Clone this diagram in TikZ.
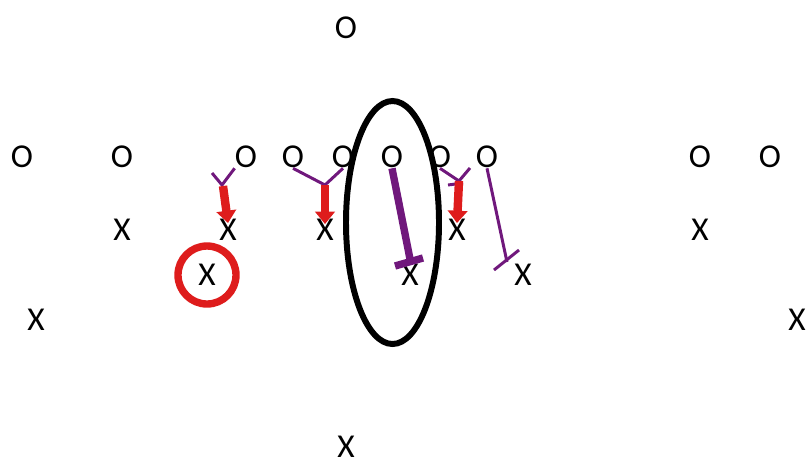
\documentclass[tikz,border=0pt]{standalone}
\usepackage{fontspec}
\setmainfont{Carlito}
\usepackage{tikz}
\usepackage{xcolor}
\usetikzlibrary{calc,arrows.meta,positioning,shapes}

\definecolor{blockpurple}{RGB}{112,24,124}
\definecolor{pushred}{RGB}{222,28,28}

\tikzset{
	man/.style={inner sep=0pt, font=\fontsize{19}{19}\selectfont},
	blk/.style={draw=blockpurple, line width=1.7pt},
	heavyblk/.style={draw=blockpurple, line width=4.2pt},
	push/.style={draw=pushred, line width=4.8pt, -{Triangle[length=7pt,width=11pt]}}
}

\begin{document}
\begin{tikzpicture}[x=0.02cm, y=-0.02cm]
			\useasboundingbox (0,0) rectangle (808,468);

			% offence
			\node[man](oT) at(346, 28){O};
			\node[man](oA) at(22, 157){O};
			\node[man](oB) at(122, 157){O};
			\node[man](oC) at(246, 157){O};
			\node[man](oD) at(293, 157){O};
			\node[man](oE) at(343, 157){O};
			\node[man](oF) at(392, 157){O};
			\node[man](oG) at(440, 157){O};
			\node[man](oH) at(487, 157){O};
			\node[man](oI) at(700, 157){O};
			\node[man](oJ) at(770, 157){O};

			% defence
			\node[man](xA) at(122, 230){X};
			\node[man](xB) at(228, 230){X};
			\node[man](xC) at(325, 230){X};
			\node[man](xD) at(457, 230){X};
			\node[man](xE) at(700, 230){X};
			\node[man](xF) at(207, 275){X};
			\node[man](xG) at(410, 275){X};
			\node[man](xH) at(523, 275){X};
			\node[man](xI) at(36, 320){X};
			\node[man](xJ) at(797, 320){X};
			\node[man](xK) at(346, 447){X};

			% the key man
			\draw[draw=pushred, line width=4.2pt] (xF) circle (29);
			\draw[line width=3.4pt] (392.5, 222.5) ellipse [x radius=46.5, y radius=121.5];

			% blocks
			\coordinate (j1) at(222, 185);
			\coordinate (a1) at(212, 173);
			\draw[blk] (oC.south west) -- (j1) -- (a1);
			\draw[push] (223, 186) -- ($(xB.center)+(0,-7)$);

			\coordinate (j2) at(325, 185);
			\draw[blk] (oD.south) -- (j2) -- (oE.south);
			\draw[push] (j2) -- ($(xC.center)+(0,-6)$);

			\coordinate (j3) at(459, 181);
			\coordinate (a3) at(470, 168);
			\draw[blk] (oG.south) -- (j3) -- (a3);
			\draw[blk] (448, 185) -- (463, 183);
			\draw[push] (j3) -- ($(xD.center)+(0,-7)$);

			\coordinate (b4) at(507, 262);
			\draw[blk] (oH.south) -- (b4);
			\draw[blk] (494, 270) -- (519, 250);

			\coordinate (b5) at(410, 259);
			\draw[heavyblk] (oF.south) -- (b5);
			\draw[heavyblk] (395, 266) -- (423, 258);

\end{tikzpicture}
\end{document}
